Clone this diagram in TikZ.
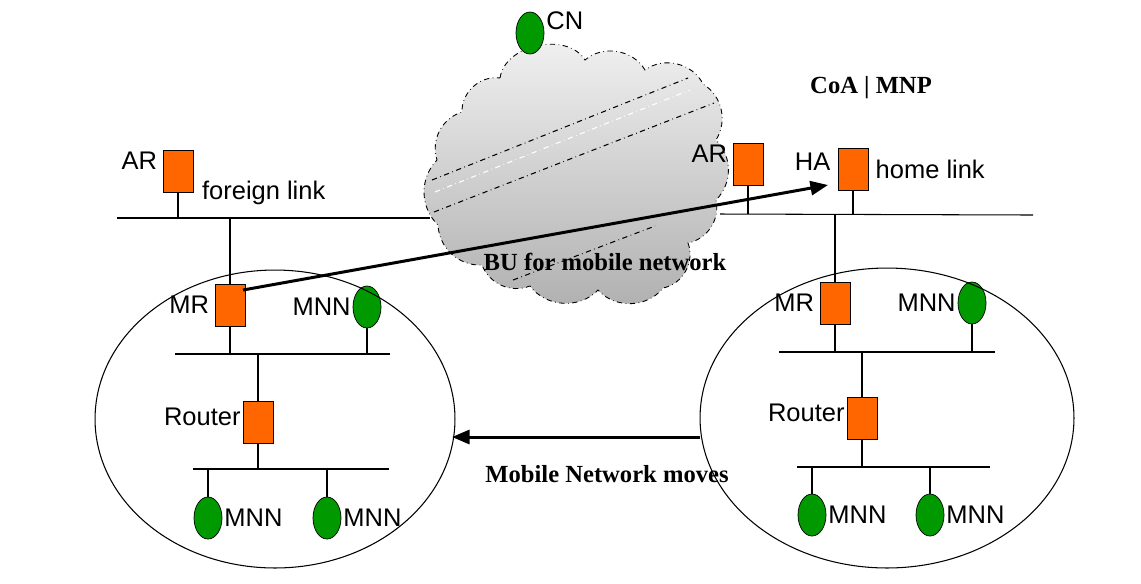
\documentclass[tikz,border=0pt]{standalone}
\usepackage{fontspec}
\setmainfont{Liberation Serif}
\setsansfont{Liberation Sans}
\usetikzlibrary{positioning}
\usetikzlibrary{shapes.geometric,arrows.meta}

\definecolor{boxorange}{HTML}{FF6600}
\definecolor{hostgreen}{HTML}{009A00}

\tikzset{
  rtrbox/.style={rectangle,draw,fill=boxorange,minimum width=0.6cm,minimum height=0.84cm,inner sep=0pt},
  mnnhost/.style={ellipse,draw,fill=hostgreen,minimum width=0.56cm,minimum height=0.84cm,inner sep=0pt},
  tag/.style={font=\sffamily\fontsize{14.5}{16}\selectfont,inner sep=1pt},
  note/.style={font=\bfseries\fontsize{14}{16}\selectfont,inner sep=1pt},
  lan/.style={line width=0.6pt},
  move/.style={line width=1.7pt,-{Triangle[length=10pt,width=8pt]}},
  puff/.style={bend left=#1},
}

\begin{document}
\begin{tikzpicture}[x=0.02cm,y=-0.02cm]
\path[use as bounding box] (0,0) rectangle (1141,583);

% internet cloud
\draw[dash dot,line width=0.5pt,top color=gray!10,bottom color=gray!62]
  (500,78) to[puff=70] (585,60) to[puff=50] (645,70) to[puff=50] (703,84)
  to[puff=45] (716,140) to[puff=45] (716,200) to[puff=45] (688,243)
  to[puff=50] (663,288) to[puff=50] (598,290) to[puff=50] (530,286)
  to[puff=45] (482,265) to[puff=45] (438,225) to[puff=45] (437,160)
  to[puff=45] (462,112) to[puff=50] cycle;
\draw[dash dot,line width=0.6pt] (432,180) -- (688,78);
\draw[white,dash dot,line width=0.6pt] (435,192) -- (690,90);
\draw[dash dot,line width=0.6pt] (434,212) -- (714,103);
\draw[dash dot,line width=0.6pt] (513,280) -- (655,226);

% links
\coordinate (fl-w) at (117,218);  \coordinate (fl-e) at (430,218);
\coordinate (hl-w) at (720,214);  \coordinate (hl-e) at (1033,215);
\coordinate (lanA-w) at (175,354); \coordinate (lanA-e) at (390,354);
\coordinate (lanB-w) at (193,469); \coordinate (lanB-e) at (389,469);
\coordinate (lanC-w) at (779,352); \coordinate (lanC-e) at (995,352);
\coordinate (lanD-w) at (797,467); \coordinate (lanD-e) at (990,467);
\foreach \l in {fl,hl,lanA,lanB,lanC,lanD}
  \draw[lan] (\l-w) -- (\l-e);

% correspondent node
\node[mnnhost] (cn) at (530,33) {};
\node[tag,anchor=west] (cntxt) at ([yshift=7pt]cn.east) {CN};

% foreign side
\node[rtrbox] (arL) at (178,171) {};
\node[tag,anchor=north east] (arLtxt) at ([xshift=-2pt]arL.north west) {AR};
\node[tag,anchor=west] (fltxt) at (200,193) {foreign link};
\node[rtrbox] (mrL) at (230,305) {};
\node[tag,left=2pt of mrL] (mrLtxt) {MR};
\node[mnnhost] (mnnA) at (367,307) {};
\node[tag,left=0pt of mnnA] (mnnAtxt) {MNN};
\node[rtrbox] (rtL) at (258,422) {};
\node[tag,left=0pt of rtL,yshift=3pt] (rtLtxt) {Router};
\node[mnnhost] (mnnB) at (208,518) {};
\node[tag,right=0pt of mnnB] (mnnBtxt) {MNN};
\node[mnnhost] (mnnC) at (327,518) {};
\node[tag,right=0pt of mnnC] (mnnCtxt) {MNN};

% home side
\node[note] (coa) at (871,88) {CoA | MNP};
\node[rtrbox] (arR) at (748,164) {};
\node[tag,anchor=north east] (arRtxt) at ([xshift=-2pt]arR.north west) {AR};
\node[rtrbox] (haR) at (853,169) {};
\node[tag,anchor=north east] (haRtxt) at ([xshift=-3pt,yshift=-2pt]haR.north west) {HA};
\node[tag,right=3pt of haR] (hltxt) {home link};
\node[rtrbox] (mrR) at (835,303) {};
\node[tag,left=2pt of mrR] (mrRtxt) {MR};
\node[mnnhost] (mnnD) at (972,303) {};
\node[tag,left=0pt of mnnD] (mnnDtxt) {MNN};
\node[rtrbox] (rtR) at (862,418) {};
\node[tag,left=0pt of rtR,yshift=3pt] (rtRtxt) {Router};
\node[mnnhost] (mnnE) at (812,515) {};
\node[tag,right=0pt of mnnE] (mnnEtxt) {MNN};
\node[mnnhost] (mnnF) at (930,515) {};
\node[tag,right=0pt of mnnF] (mnnFtxt) {MNN};

% stems
\draw[lan] (arL.south) -- (arL.south |- fl-w);
\draw[lan] (mrL.north) -- (mrL.north |- fl-w);
\draw[lan] (mrL.south) -- (mrL.south |- lanA-w);
\draw[lan] (mnnA.south) -- (mnnA.south |- lanA-w);
\draw[lan] (rtL.north) -- (rtL.north |- lanA-w);
\draw[lan] (rtL.south) -- (rtL.south |- lanB-w);
\draw[lan] (mnnB.north) -- (mnnB.north |- lanB-w);
\draw[lan] (mnnC.north) -- (mnnC.north |- lanB-w);
\draw[lan] (arR.south) -- (arR.south |- hl-w);
\draw[lan] (haR.south) -- (haR.south |- hl-w);
\draw[lan] (mrR.north) -- (mrR.north |- hl-w);
\draw[lan] (mrR.south) -- (mrR.south |- lanC-w);
\draw[lan] (mnnD.south) -- (mnnD.south |- lanC-w);
\draw[lan] (rtR.north) -- (rtR.north |- lanC-w);
\draw[lan] (rtR.south) -- (rtR.south |- lanD-w);
\draw[lan] (mnnE.north) -- (mnnE.north |- lanD-w);
\draw[lan] (mnnF.north) -- (mnnF.north |- lanD-w);

% mobile networks
\draw[line width=0.6pt] (275,419) ellipse [x radius=3.6cm,y radius=2.98cm];
\draw[line width=0.6pt] (887,418) ellipse [x radius=3.74cm,y radius=3.0cm];

% binding update and movement
\coordinate (buS) at (243,290);
\coordinate (buE) at (828,185);
\draw[move] (buS) -- (buE);
\node[note] (butxt) at (605,262) {BU for mobile network};
\coordinate (mvS) at (700,437);
\coordinate (mvE) at (452,437);
\draw[move] (mvS) -- (mvE);
\node[note] (mvtxt) at (607,474) {Mobile Network moves};
\end{tikzpicture}
\end{document}
